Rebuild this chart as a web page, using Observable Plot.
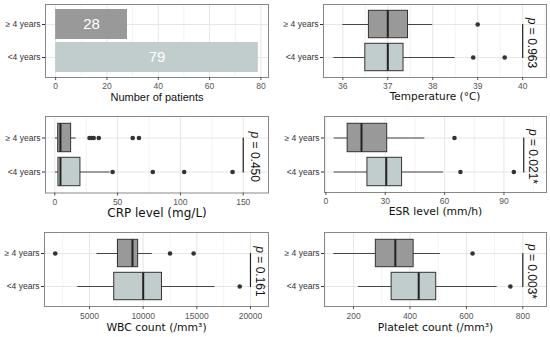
<!DOCTYPE html>
<html><head><meta charset="utf-8">
<script src="https://cdn.jsdelivr.net/npm/d3@7"></script>
<script src="https://cdn.jsdelivr.net/npm/@observablehq/plot@0.6"></script>
<style>
body{margin:0;background:#fff;}
#chart{position:relative;width:550px;height:337px;overflow:hidden;background:#fff;}
#chart svg{position:absolute;}
</style></head><body><div id="chart"></div>
<script>
const groups = ["≥ 4 years", "<4 years"];
const groupFill = ["#999999", "#C1CDCD"];

const patientCounts = [28, 79];
const patientTicks = [0, 20, 40, 60, 80];

// five-number summaries: [lower whisker, Q1, median, Q3, upper whisker]
const temperatureOlder = [36.0, 36.58, 37.0, 37.45, 38.0];
const temperatureYounger = [35.8, 36.5, 37.0, 37.35, 38.5];
const temperatureOutliersOlder = [39.0];
const temperatureOutliersYounger = [38.9, 39.6];
const temperatureTicks = [36, 37, 38, 39, 40];
const temperatureP = "0.963";

const crpOlder = [0.5, 2.7, 4.5, 13, 17];
const crpYounger = [0.5, 2.9, 4.5, 20.4, 44];
const crpOutliersOlder = [27.6, 29, 31, 35, 62, 67];
const crpOutliersYounger = [46, 78, 103, 141.5];
const crpTicks = [0, 50, 100, 150];
const crpP = "0.450";

const esrOlder = [4.2, 11, 18, 31, 50];
const esrYounger = [4.2, 21, 30.5, 38.5, 59.5];
const esrOutliersOlder = [65];
const esrOutliersYounger = [68, 95];
const esrTicks = [0, 30, 60, 90];
const esrP = "0.021*";

const wbcOlder = [5700, 7650, 9000, 9530, 10850];
const wbcYounger = [3900, 7300, 10000, 11750, 16700];
const wbcOutliersOlder = [1800, 12500, 14700];
const wbcOutliersYounger = [19000];
const wbcTicks = [5000, 10000, 15000, 20000];
const wbcP = "0.161";

const plateletOlder = [130, 279, 348, 413, 508];
const plateletYounger = [217, 335, 431, 493, 709];
const plateletOutliersOlder = [622];
const plateletOutliersYounger = [756];
const plateletTicks = [200, 400, 600, 800];
const plateletP = "0.003*";

const chart = document.getElementById("chart");
const SANS = "'Liberation Sans', Arial, sans-serif";
const DEJAVU = "'DejaVu Sans', Verdana, sans-serif";

function minorTicks(ticks, domain) {
  const step = ticks[1] - ticks[0];
  const out = [];
  for (let v = ticks[0] - step / 2; v <= domain[1]; v += step) if (v >= domain[0]) out.push(v);
  return out;
}

function place(svg, left, top) {
  svg.style.left = left + "px";
  svg.style.top = top + "px";
  svg.querySelectorAll("text").forEach(t => {
    const s = t.textContent;
    if (s.startsWith("p = ")) {
      t.textContent = "";
      const a = document.createElementNS("http://www.w3.org/2000/svg", "tspan");
      a.setAttribute("font-style", "italic");
      a.textContent = "p";
      const b = document.createElementNS("http://www.w3.org/2000/svg", "tspan");
      b.textContent = s.slice(1);
      t.append(a, b);
    }
  });
  chart.appendChild(svg);
}

function common(o) {
  return [
    Plot.gridX(minorTicks(o.ticks, o.domain), {stroke: "#f3f3f3", strokeOpacity: 1}),
    Plot.gridX(o.ticks, {stroke: "#e6e6e6", strokeOpacity: 1}),
    Plot.gridY(groups, {stroke: "#e6e6e6", strokeOpacity: 1})
  ];
}

function axes(o) {
  return [
    Plot.frame({stroke: "#888"}),
    Plot.axisX(o.ticks, {tickSize: 3, tickPadding: o.tp, label: null, color: "#555", fontSize: 8.5, tickFormat: d => `${d}`}),
    Plot.axisY({tickSize: 3, tickPadding: 2, label: null, color: "#333", fontSize: 8.5}),
    Plot.text([o.label], {frameAnchor: "bottom", dy: o.labelDy, fontSize: o.labelSize, fontFamily: o.labelFont || DEJAVU, fill: "#111"})
  ];
}

function boxPanel(o) {
  const stats = groups.map((g, i) => {
    const s = [o.older, o.younger][i];
    return {group: g, fill: groupFill[i], lo: s[0], q1: s[1], med: s[2], q3: s[3], hi: s[4]};
  });
  const outliers = [
    ...o.outOlder.map(v => ({group: groups[0], value: v})),
    ...o.outYounger.map(v => ({group: groups[1], value: v}))
  ];
  const pLine = groups.map(g => ({group: g, value: o.pAt}));
  return Plot.plot({
    width: 275, height: o.height,
    marginLeft: o.ml, marginRight: o.mr, marginTop: o.mt, marginBottom: o.mb,
    style: {fontFamily: SANS, fontSize: "8.5px", background: "transparent", overflow: "visible"},
    x: {domain: o.domain},
    y: {type: "band", domain: groups, paddingInner: 0.1, paddingOuter: 0.15},
    color: {type: "identity"},
    marks: [
      ...common(o),
      Plot.ruleY(stats, {y: "group", x1: "lo", x2: "q1", stroke: "#444"}),
      Plot.ruleY(stats, {y: "group", x1: "q3", x2: "hi", stroke: "#444"}),
      Plot.barX(stats, {y: "group", x1: "q1", x2: "q3", fill: "fill", stroke: "#333", strokeWidth: 1, insetTop: 1.3, insetBottom: 1.3}),
      Plot.tickX(stats, {y: "group", x: "med", stroke: "#222", strokeWidth: 2, insetTop: 1.3, insetBottom: 1.3}),
      Plot.dot(outliers, {y: "group", x: "value", r: 2.3, fill: "#333", stroke: "none"}),
      Plot.line(pLine, {x: "value", y: "group", stroke: "#222", strokeWidth: 1.2}),
      Plot.text([{value: o.pAt, p: o.p}], {x: "value", text: d => "p = " + d.p, rotate: 90, dx: o.pdx, dy: 2, fontSize: 12, fontFamily: SANS, fill: "#111"}),
      ...axes(o)
    ]
  });
}

// Panel 1: number of patients
const counts = groups.map((g, i) => ({group: g, n: patientCounts[i], fill: groupFill[i]}));
const p1 = {ticks: patientTicks, domain: [-3.95, 82.95], tp: 2, label: "Number of patients", labelDy: 23, labelSize: 11, labelFont: SANS};
place(Plot.plot({
  width: 275, height: 112, marginLeft: 45, marginRight: 7, marginTop: 4, marginBottom: 35,
  style: {fontFamily: SANS, fontSize: "8.5px", background: "transparent", overflow: "visible"},
  x: {domain: p1.domain},
  y: {type: "band", domain: groups, paddingInner: 0.1, paddingOuter: 0.15},
  color: {type: "identity"},
  marks: [
    ...common(p1),
    Plot.barX(counts, {x: "n", y: "group", fill: "fill"}),
    Plot.text(counts, {x: d => d.n / 2, y: "group", text: d => String(d.n), fill: "white", fontSize: 15, fontFamily: SANS}),
    ...axes(p1)
  ]
}), 0, 0);

place(boxPanel({height: 112, ml: 48, mr: 4, mt: 4, mb: 35, domain: [35.57, 40.53], ticks: temperatureTicks, tp: 2,
  older: temperatureOlder, younger: temperatureYounger, outOlder: temperatureOutliersOlder, outYounger: temperatureOutliersYounger,
  pAt: 40, p: temperatureP, pdx: 9, label: "Temperature (°C)", labelDy: 22, labelSize: 10.5}), 275, 0);

place(boxPanel({height: 112, ml: 45, mr: 7, mt: 4, mb: 31.5, domain: [-7.4, 170.1], ticks: crpTicks, tp: 2.5,
  older: crpOlder, younger: crpYounger, outOlder: crpOutliersOlder, outYounger: crpOutliersYounger,
  pAt: 150, p: crpP, pdx: 12, label: "CRP level (mg/L)", labelDy: 24, labelSize: 12}), 0, 112);

place(boxPanel({height: 112, ml: 49, mr: 4, mt: 4, mb: 32, domain: [-0.7, 111.5], ticks: esrTicks, tp: 2.5,
  older: esrOlder, younger: esrYounger, outOlder: esrOutliersOlder, outYounger: esrOutliersYounger,
  pAt: 100, p: esrP, pdx: 9.5, label: "ESR level (mm/h)", labelDy: 22, labelSize: 10.8}), 275, 112);

place(boxPanel({height: 113, ml: 44, mr: 7, mt: 8, mb: 31, domain: [800, 21680], ticks: wbcTicks, tp: 3,
  older: wbcOlder, younger: wbcYounger, outOlder: wbcOutliersOlder, outYounger: wbcOutliersYounger,
  pAt: 20000, p: wbcP, pdx: 9.5, label: "WBC count (/mm³)", labelDy: 24.5, labelSize: 10.8}), 0, 224);

place(boxPanel({height: 113, ml: 49, mr: 4, mt: 8, mb: 31, domain: [97, 884], ticks: plateletTicks, tp: 3,
  older: plateletOlder, younger: plateletYounger, outOlder: plateletOutliersOlder, outYounger: plateletOutliersYounger,
  pAt: 800, p: plateletP, pdx: 9.5, label: "Platelet count (/mm³)", labelDy: 24.5, labelSize: 10.8}), 275, 224);
</script>
</body></html>
